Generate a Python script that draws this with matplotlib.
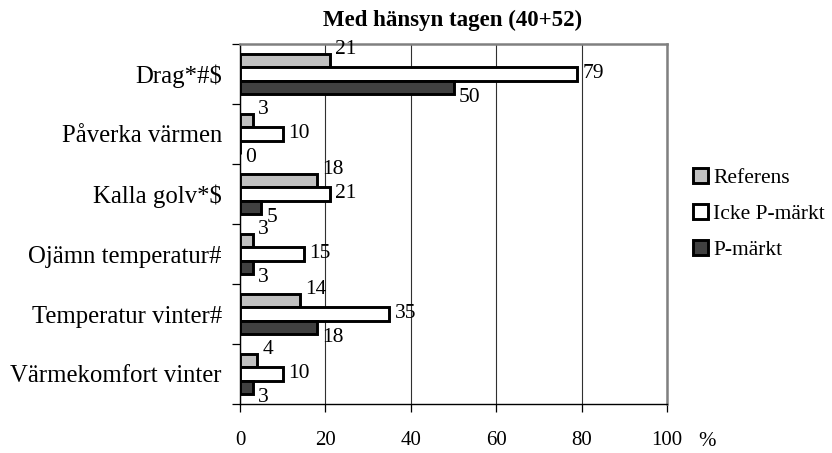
import matplotlib.pyplot as plt
import numpy as np
from matplotlib.patches import Patch
from matplotlib.ticker import MultipleLocator, FixedLocator

plt.rcParams['font.family'] = ['Liberation Serif', 'DejaVu Serif']

categories = ['Drag*#$', 'Påverka värmen', 'Kalla golv*$', 'Ojämn temperatur#',
              'Temperatur vinter#', 'Värmekomfort vinter']
series = ['Referens', 'Icke P-märkt', 'P-märkt']
referens = [21, 3, 18, 3, 14, 4]
icke_pm = [79, 10, 21, 15, 35, 10]
p_markt = [50, 0, 5, 3, 18, 3]
colors = ['#c0c0c0', '#ffffff', '#404040']

fig = plt.figure(figsize=(8.32, 4.53), dpi=100)
ax = fig.add_axes([240 / 832, 1 - 404 / 453, 427 / 832, 360 / 453])

y = np.arange(len(categories))
h = 0.225
label_dy = [-11 / 60, 0, 10 / 60]
for k, (vals, col) in enumerate(zip([referens, icke_pm, p_markt], colors)):
    yy = y + (k - 1) * h
    ax.barh(yy, vals, height=h, color=col, edgecolor='black', linewidth=2.1,
            label=series[k], zorder=3)
    for yi, v in zip(yy, vals):
        ax.text(v + 1.3, yi + label_dy[k], str(v), va='center', ha='left',
                fontsize=15.5, zorder=4)

ax.set_xlim(0, 100)
ax.set_ylim(len(categories) - 0.5, -0.5)
ax.xaxis.set_major_locator(MultipleLocator(20))
ax.grid(axis='x', color='#303030', linewidth=0.8, zorder=0)
ax.set_yticks(y)
ax.set_yticklabels(categories, fontsize=17.8)
ax.yaxis.set_minor_locator(FixedLocator(np.arange(-0.5, len(categories), 1)))
ax.tick_params(axis='y', which='major', length=0, pad=13)
ax.tick_params(axis='y', which='minor', length=6, width=0.9, direction='out')
ax.tick_params(axis='x', length=5.5, width=0.9, direction='out', pad=14, labelsize=15)

for s in ['top', 'right']:
    ax.spines[s].set_color('#808080')
    ax.spines[s].set_linewidth(1.8)
for s in ['left', 'bottom']:
    ax.spines[s].set_color('black')
    ax.spines[s].set_linewidth(1.0)

fig.text(707 / 832, 1 - 442 / 453, '%', fontsize=15, ha='center', va='center')
fig.text(453 / 832, 1 - 20 / 453, 'Med hänsyn tagen (40+52)', fontsize=16.5,
         fontweight='bold', ha='center', va='center')

handles = [Patch(facecolor=c, edgecolor='black', linewidth=2.1) for c in colors]
fig.legend(handles, series, loc='center left', bbox_to_anchor=(693 / 832, 1 - 214 / 453),
           frameon=False, fontsize=15.5, handlelength=0.7, handleheight=0.7,
           handletextpad=0.25, labelspacing=0.75, borderpad=0, borderaxespad=0)

fig.savefig('out.png', dpi=100)
